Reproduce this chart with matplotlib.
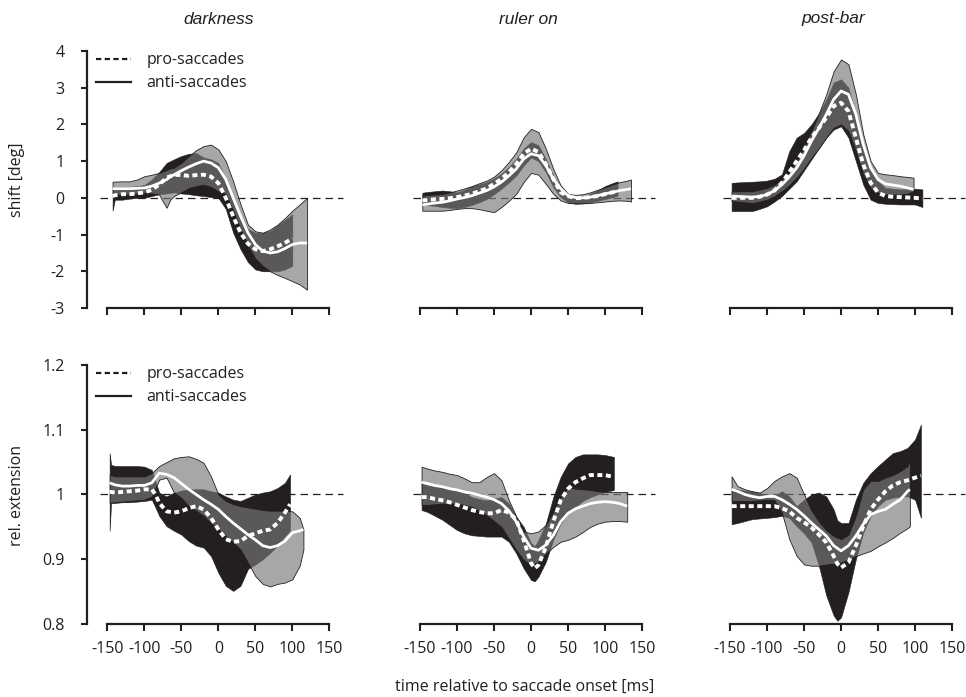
import numpy as np
import matplotlib
matplotlib.use('Agg')
import matplotlib.pyplot as plt
from matplotlib.lines import Line2D

# ---- data: time [ms], mean and confidence band for pro / anti saccades ----
# darkness, shift [deg]
dark_shift_pro_t = [-143, -140, -130, -120, -110, -100, -90, -80, -70, -60, -50, -40, -30, -20, -10, 0,
                    10, 20, 30, 40, 50, 60, 70, 80, 90, 100]
dark_shift_pro_mean = [0.05, 0.07, 0.1, 0.1, 0.12, 0.15, 0.22, 0.36, 0.55, 0.63, 0.62, 0.6, 0.62, 0.63, 0.58, 0.4,
                       0.0, -0.5, -0.95, -1.25, -1.4, -1.45, -1.4, -1.32, -1.23, -1.1]
dark_shift_pro_hi = [0.3, 0.3, 0.3, 0.3, 0.32, 0.35, 0.5, 0.7, 0.95, 1.05, 1.14, 1.2, 1.22, 1.1, 1.05, 0.95,
                     0.5, -0.1, -0.5, -0.85, -0.95, -0.95, -0.9, -0.75, -0.6, -0.45]
dark_shift_pro_lo = [-0.35, -0.05, -0.05, -0.02, 0.0, 0.0, 0.05, 0.1, 0.12, 0.15, 0.12, 0.1, 0.07, 0.05, 0.02, 0.0,
                     -0.3, -0.95, -1.4, -1.75, -1.95, -2.0, -2.0, -2.0, -1.95, -1.85]
dark_shift_anti_t = [-143, -130, -120, -110, -100, -90, -80, -75, -70, -65, -60, -50, -40, -30, -20, -10, 0,
                     10, 20, 30, 40, 50, 60, 70, 80, 90, 100, 110, 120]
dark_shift_anti_mean = [0.25, 0.25, 0.25, 0.26, 0.27, 0.32, 0.4, 0.45, 0.5, 0.57, 0.63, 0.74, 0.84, 0.93, 1.0, 0.95, 0.82,
                        0.5, 0.0, -0.5, -0.95, -1.27, -1.45, -1.5, -1.47, -1.38, -1.27, -1.23, -1.23]
dark_shift_anti_hi = [0.44, 0.45, 0.45, 0.5, 0.59, 0.63, 0.68, 0.72, 0.76, 0.8, 0.82, 0.95, 1.14, 1.3, 1.41, 1.45, 1.32,
                      1.0, 0.45, -0.18, -0.73, -0.91, -0.95, -0.86, -0.73, -0.55, -0.35, -0.18, 0.0]
dark_shift_anti_lo = [0.09, 0.09, 0.09, 0.11, 0.14, 0.12, 0.09, -0.1, -0.27, -0.05, 0.05, 0.15, 0.27, 0.32, 0.36, 0.3, 0.18,
                      0.1, -0.35, -0.85, -1.3, -1.65, -1.85, -2.0, -2.1, -2.18, -2.27, -2.36, -2.5]

# ruler on, shift [deg]
ruler_shift_pro_t = [-147, -140, -130, -120, -110, -100, -90, -80, -70, -60, -50, -40, -30, -20, -10, 0,
                     10, 20, 30, 40, 50, 60, 70, 80, 90, 100, 110, 117]
ruler_shift_pro_mean = [-0.07, -0.06, -0.04, -0.03, -0.01, 0.02, 0.06, 0.11, 0.18, 0.26, 0.38, 0.52, 0.7, 0.92, 1.2, 1.34,
                        1.25, 0.92, 0.52, 0.15, 0.05, -0.01, 0.0, 0.02, 0.05, 0.1, 0.15, 0.2]
ruler_shift_pro_hi = [0.14, 0.16, 0.18, 0.2, 0.18, 0.15, 0.22, 0.32, 0.37, 0.43, 0.53, 0.66, 0.84, 1.06, 1.34, 1.52,
                      1.43, 1.06, 0.61, 0.25, 0.06, 0.02, 0.05, 0.11, 0.2, 0.32, 0.4, 0.45]
ruler_shift_pro_lo = [-0.19, -0.2, -0.22, -0.25, -0.27, -0.28, -0.25, -0.19, -0.12, -0.03, 0.1, 0.25, 0.42, 0.61, 0.88, 1.1,
                      1.0, 0.7, 0.29, 0.02, -0.12, -0.16, -0.15, -0.12, -0.08, -0.03, 0.02, 0.06]
ruler_shift_anti_t = [-147, -140, -130, -120, -110, -100, -90, -80, -70, -60, -50, -40, -30, -20, -10, 0,
                      10, 20, 30, 40, 50, 60, 70, 80, 90, 100, 110, 120, 130, 135]
ruler_shift_anti_mean = [-0.19, -0.17, -0.14, -0.12, -0.08, -0.03, 0.01, 0.06, 0.13, 0.2, 0.3, 0.43, 0.6, 0.79, 1.06, 1.2,
                         1.15, 0.88, 0.52, 0.25, 0.06, 0.01, 0.0, 0.02, 0.06, 0.11, 0.15, 0.2, 0.23, 0.25]
ruler_shift_anti_hi = [0.06, 0.08, 0.09, 0.1, 0.15, 0.2, 0.26, 0.32, 0.4, 0.47, 0.58, 0.75, 0.98, 1.24, 1.65, 1.88,
                       1.79, 1.34, 0.79, 0.34, 0.11, 0.08, 0.1, 0.15, 0.22, 0.29, 0.36, 0.43, 0.47, 0.5]
ruler_shift_anti_lo = [-0.35, -0.35, -0.35, -0.35, -0.33, -0.3, -0.28, -0.28, -0.31, -0.35, -0.39, -0.25, -0.08, 0.11, 0.43, 0.68,
                       0.63, 0.38, 0.11, -0.07, -0.14, -0.15, -0.15, -0.14, -0.12, -0.1, -0.08, -0.07, -0.08, -0.1]

# post-bar, shift [deg]
post_shift_pro_t = [-148, -140, -130, -120, -110, -100, -90, -80, -70, -60, -50, -40, -30, -20, -10, 0,
                    10, 20, 30, 40, 50, 60, 70, 80, 90, 100, 110]
post_shift_pro_mean = [0.0, 0.0, 0.0, 0.0, 0.03, 0.09, 0.2, 0.41, 0.7, 1.0, 1.3, 1.64, 1.9, 2.18, 2.5, 2.59,
                       2.36, 1.64, 0.91, 0.41, 0.14, 0.05, 0.03, 0.02, 0.01, 0.0, -0.02]
post_shift_pro_hi = [0.41, 0.42, 0.43, 0.44, 0.45, 0.47, 0.52, 0.64, 1.27, 1.64, 1.77, 2.0, 2.3, 2.68, 3.14, 3.23,
                     3.0, 2.27, 1.36, 0.82, 0.45, 0.27, 0.25, 0.23, 0.24, 0.25, 0.23]
post_shift_pro_lo = [-0.36, -0.36, -0.36, -0.36, -0.3, -0.23, -0.1, 0.05, 0.25, 0.45, 0.75, 1.05, 1.35, 1.64, 1.86, 1.95,
                     1.64, 1.0, 0.36, -0.05, -0.14, -0.16, -0.17, -0.18, -0.18, -0.18, -0.25]
post_shift_anti_t = [-148, -140, -130, -120, -110, -100, -90, -80, -70, -60, -50, -40, -30, -20, -10, 0,
                     10, 20, 30, 40, 50, 60, 70, 80, 90, 98]
post_shift_anti_mean = [0.05, 0.04, 0.03, 0.02, 0.04, 0.09, 0.2, 0.36, 0.57, 0.82, 1.15, 1.55, 1.9, 2.27, 2.68, 2.91,
                        2.82, 2.27, 1.45, 0.82, 0.5, 0.38, 0.35, 0.32, 0.27, 0.23]
post_shift_anti_hi = [0.18, 0.18, 0.18, 0.18, 0.22, 0.27, 0.36, 0.5, 0.72, 1.0, 1.38, 1.82, 2.3, 2.82, 3.45, 3.77,
                      3.64, 2.82, 1.73, 1.0, 0.68, 0.64, 0.62, 0.59, 0.57, 0.55]
post_shift_anti_lo = [-0.09, -0.1, -0.12, -0.14, -0.1, -0.05, 0.05, 0.18, 0.35, 0.55, 0.8, 1.09, 1.35, 1.64, 1.91, 2.0,
                      1.82, 1.27, 0.64, 0.27, 0.14, 0.09, 0.09, 0.09, 0.12, 0.18]

# darkness, rel. extension
dark_ext_pro_t = [-147, -145, -140, -130, -120, -110, -100, -90, -85, -80, -70, -60, -50, -40, -30, -20, -10, 0,
                  10, 20, 30, 40, 50, 60, 70, 80, 90, 97]
dark_ext_pro_mean = [1.004, 1.004, 1.003, 1.004, 1.005, 1.006, 1.008, 1.008, 1.0, 0.987, 0.974, 0.972, 0.974, 0.979,
                     0.982, 0.977, 0.964, 0.946, 0.931, 0.927, 0.928, 0.936, 0.94, 0.944, 0.946, 0.956, 0.972, 0.985]
dark_ext_pro_hi = [1.064, 1.046, 1.044, 1.044, 1.044, 1.044, 1.043, 1.038, 1.02, 1.003, 0.997, 1.003, 1.006, 1.008,
                   1.008, 1.008, 1.005, 1.003, 0.997, 0.992, 0.99, 0.995, 1.0, 1.003, 1.005, 1.01, 1.018, 1.031]
dark_ext_pro_lo = [0.944, 0.987, 0.987, 0.988, 0.988, 0.989, 0.99, 0.992, 0.98, 0.967, 0.951, 0.944, 0.938, 0.928,
                   0.921, 0.918, 0.905, 0.879, 0.859, 0.851, 0.859, 0.885, 0.892, 0.9, 0.91, 0.921, 0.936, 0.944]
dark_ext_anti_t = [-147, -140, -130, -120, -110, -100, -90, -80, -70, -60, -50, -40, -30, -20, -10, 0,
                   10, 20, 30, 40, 50, 60, 70, 80, 90, 100, 110, 115]
dark_ext_anti_mean = [1.018, 1.015, 1.013, 1.013, 1.014, 1.014, 1.018, 1.033, 1.031, 1.026, 1.017, 1.008, 1.0, 0.992,
                      0.985, 0.977, 0.966, 0.956, 0.947, 0.938, 0.93, 0.921, 0.918, 0.921, 0.928, 0.941, 0.944, 0.946]
dark_ext_anti_hi = [1.031, 1.028, 1.028, 1.028, 1.028, 1.028, 1.033, 1.044, 1.05, 1.056, 1.058, 1.059, 1.055, 1.049,
                    1.028, 1.0, 0.99, 0.985, 0.982, 0.98, 0.978, 0.976, 0.975, 0.975, 0.975, 0.974, 0.964, 0.946]
dark_ext_anti_lo = [0.987, 0.988, 0.989, 0.99, 0.991, 0.992, 0.997, 1.023, 1.026, 1.003, 0.995, 0.982, 0.975, 0.967,
                    0.956, 0.946, 0.936, 0.926, 0.915, 0.895, 0.874, 0.862, 0.858, 0.862, 0.864, 0.869, 0.89, 0.915]

# ruler on, rel. extension
ruler_ext_pro_t = [-148, -140, -130, -120, -110, -100, -90, -80, -70, -60, -50, -40, -30, -20, -10, 0, 5,
                   10, 20, 30, 40, 50, 60, 70, 80, 90, 100, 112]
ruler_ext_pro_mean = [0.996, 0.996, 0.993, 0.991, 0.988, 0.984, 0.98, 0.976, 0.973, 0.971, 0.971, 0.976, 0.972, 0.961,
                      0.93, 0.894, 0.886, 0.891, 0.919, 0.958, 0.991, 1.009, 1.019, 1.025, 1.03, 1.03, 1.03, 1.027]
ruler_ext_pro_hi = [1.017, 1.014, 1.012, 1.011, 1.009, 1.007, 1.002, 0.996, 0.993, 0.991, 0.994, 0.996, 0.986, 0.966,
                    0.95, 0.925, 0.92, 0.93, 0.955, 0.996, 1.027, 1.048, 1.058, 1.062, 1.062, 1.062, 1.061, 1.058]
ruler_ext_pro_lo = [0.976, 0.973, 0.967, 0.961, 0.953, 0.945, 0.94, 0.937, 0.936, 0.935, 0.935, 0.935, 0.927, 0.909,
                    0.886, 0.868, 0.866, 0.873, 0.896, 0.93, 0.955, 0.971, 0.981, 0.99, 0.996, 1.0, 1.004, 1.007]
ruler_ext_anti_t = [-148, -140, -130, -120, -110, -100, -90, -80, -70, -60, -50, -40, -30, -20, -10, 0,
                    10, 20, 30, 40, 50, 60, 70, 80, 90, 100, 110, 120, 130]
ruler_ext_anti_mean = [1.019, 1.017, 1.014, 1.012, 1.009, 1.007, 1.004, 1.002, 0.999, 0.996, 0.992, 0.986, 0.975, 0.958,
                       0.935, 0.917, 0.914, 0.922, 0.937, 0.958, 0.971, 0.978, 0.982, 0.986, 0.988, 0.989, 0.988, 0.986, 0.982]
ruler_ext_anti_hi = [1.043, 1.04, 1.037, 1.035, 1.032, 1.03, 1.025, 1.019, 1.019, 1.027, 1.033, 1.022, 0.991, 0.966,
                     0.943, 0.94, 0.943, 0.953, 0.973, 0.996, 1.012, 1.009, 1.008, 1.007, 1.005, 1.004, 1.004, 1.004, 1.004]
ruler_ext_anti_lo = [0.984, 0.984, 0.985, 0.986, 0.986, 0.986, 0.984, 0.981, 0.975, 0.968, 0.959, 0.95, 0.932, 0.914,
                     0.899, 0.891, 0.896, 0.909, 0.919, 0.927, 0.93, 0.935, 0.942, 0.95, 0.955, 0.958, 0.959, 0.959, 0.958]

# post-bar, rel. extension
post_ext_pro_t = [-148, -140, -130, -120, -110, -100, -90, -80, -70, -60, -50, -40, -30, -20, -10, -5, 0,
                  10, 20, 30, 40, 50, 60, 70, 80, 90, 100, 108]
post_ext_pro_mean = [0.982, 0.982, 0.982, 0.982, 0.982, 0.982, 0.982, 0.979, 0.974, 0.964, 0.957, 0.949, 0.938, 0.926,
                     0.905, 0.893, 0.887, 0.895, 0.921, 0.951, 0.977, 0.992, 1.005, 1.014, 1.019, 1.022, 1.026, 1.029]
post_ext_pro_hi = [1.01, 1.008, 1.006, 1.005, 1.002, 1.0, 0.997, 1.005, 0.997, 0.982, 0.992, 1.0, 1.003, 0.997,
                   0.977, 0.96, 0.956, 0.956, 0.992, 1.018, 1.033, 1.044, 1.054, 1.064, 1.067, 1.072, 1.085, 1.108]
post_ext_pro_lo = [0.954, 0.956, 0.959, 0.962, 0.963, 0.964, 0.965, 0.967, 0.964, 0.951, 0.94, 0.926, 0.89, 0.844,
                   0.813, 0.805, 0.81, 0.849, 0.9, 0.941, 0.967, 0.982, 0.992, 0.995, 0.997, 0.997, 0.992, 0.964]
post_ext_anti_t = [-148, -140, -130, -120, -110, -100, -90, -80, -70, -60, -50, -40, -30, -20, -10, 0,
                   10, 20, 30, 40, 50, 60, 70, 80, 90, 93]
post_ext_anti_mean = [1.008, 1.005, 1.0, 0.997, 0.995, 0.997, 0.997, 0.992, 0.985, 0.977, 0.967, 0.956, 0.946, 0.936,
                      0.921, 0.913, 0.921, 0.936, 0.954, 0.969, 0.974, 0.977, 0.985, 0.992, 1.005, 1.008]
post_ext_anti_hi = [1.028, 1.013, 1.008, 1.005, 1.003, 1.01, 1.021, 1.028, 1.033, 1.026, 1.0, 0.975, 0.958, 0.945,
                    0.936, 0.931, 0.938, 0.967, 1.008, 1.021, 1.021, 1.026, 1.03, 1.036, 1.044, 1.054]
post_ext_anti_lo = [0.99, 0.99, 0.99, 0.99, 0.991, 0.992, 0.991, 0.972, 0.931, 0.905, 0.892, 0.89, 0.89, 0.892,
                    0.893, 0.895, 0.9, 0.905, 0.909, 0.913, 0.92, 0.926, 0.933, 0.941, 0.948, 0.951]

conditions = ["darkness", "ruler on", "post-bar"]
time_ticks = [-150, -100, -50, 0, 50, 100, 150]
shift_ticks = [-3, -2, -1, 0, 1, 2, 3, 4]
ext_ticks = [0.8, 0.9, 1.0, 1.1, 1.2]
ext_ticklabels = ["0.8", "0.9", "1", "1.1", "1.2"]

INK = '#231f20'
plt.rcParams['font.family'] = ['Open Sans', 'DejaVu Sans']
plt.rcParams['axes.unicode_minus'] = False
plt.rcParams['text.color'] = INK


def draw_panel(ax, pro, anti, ref):
    pt, pm, phi, plo = [np.asarray(a) for a in pro]
    at, am, ahi, alo = [np.asarray(a) for a in anti]
    ax.plot([-160, 168], [ref, ref], color=INK, lw=0.9, dashes=(6, 4), zorder=1, clip_on=False)
    ax.fill_between(pt, plo, phi, facecolor=INK, edgecolor=INK, lw=0.4, zorder=2)
    # semi-transparent grey: light grey on white, dark grey where it overlaps the black band
    ax.fill_between(at, alo, ahi, facecolor=(0.47, 0.47, 0.47, 0.65), edgecolor=INK, lw=0.6, zorder=3)
    ax.plot(at, am, color='white', lw=2.0, solid_capstyle='butt', zorder=4)
    ax.plot(pt, pm, color='white', lw=2.8, dashes=(1.3, 0.9), zorder=5)


fig = plt.figure(figsize=(9.66, 6.97), dpi=100)
W, H = 966.0, 697.0
lefts = [86.7, 399.4, 709.4]
ax_w = 242.6
rows = [(51.0, 308.0), (365.0, 624.0)]

panels_top = [
    ((dark_shift_pro_t, dark_shift_pro_mean, dark_shift_pro_hi, dark_shift_pro_lo),
     (dark_shift_anti_t, dark_shift_anti_mean, dark_shift_anti_hi, dark_shift_anti_lo)),
    ((ruler_shift_pro_t, ruler_shift_pro_mean, ruler_shift_pro_hi, ruler_shift_pro_lo),
     (ruler_shift_anti_t, ruler_shift_anti_mean, ruler_shift_anti_hi, ruler_shift_anti_lo)),
    ((post_shift_pro_t, post_shift_pro_mean, post_shift_pro_hi, post_shift_pro_lo),
     (post_shift_anti_t, post_shift_anti_mean, post_shift_anti_hi, post_shift_anti_lo)),
]
panels_bot = [
    ((dark_ext_pro_t, dark_ext_pro_mean, dark_ext_pro_hi, dark_ext_pro_lo),
     (dark_ext_anti_t, dark_ext_anti_mean, dark_ext_anti_hi, dark_ext_anti_lo)),
    ((ruler_ext_pro_t, ruler_ext_pro_mean, ruler_ext_pro_hi, ruler_ext_pro_lo),
     (ruler_ext_anti_t, ruler_ext_anti_mean, ruler_ext_anti_hi, ruler_ext_anti_lo)),
    ((post_ext_pro_t, post_ext_pro_mean, post_ext_pro_hi, post_ext_pro_lo),
     (post_ext_anti_t, post_ext_anti_mean, post_ext_anti_hi, post_ext_anti_lo)),
]

for r, (panels, ylim, ref) in enumerate([(panels_top, (-3, 4), 0.0), (panels_bot, (0.8, 1.2), 1.0)]):
    top, bot = rows[r]
    for c in range(3):
        ax = fig.add_axes([lefts[c] / W, 1 - bot / H, ax_w / W, (bot - top) / H])
        pro, anti = panels[c]
        draw_panel(ax, pro, anti, ref)
        ax.set_xlim(-178, 150)
        ax.set_ylim(*ylim)
        for s in ['top', 'right']:
            ax.spines[s].set_visible(False)
        ax.spines['bottom'].set_bounds(-150, 150)
        ax.spines['bottom'].set_linewidth(1.6)
        ax.spines['bottom'].set_color(INK)
        ax.set_xticks(time_ticks)
        ax.tick_params(axis='x', direction='out', length=5, width=1.5, color=INK,
                       labelsize=11.5, labelcolor=INK, pad=7, labelbottom=(r == 1))
        if c == 0:
            ax.spines['left'].set_linewidth(1.6)
            ax.spines['left'].set_color(INK)
            if r == 0:
                ax.set_yticks(shift_ticks)
            else:
                ax.set_yticks(ext_ticks)
                ax.set_yticklabels(ext_ticklabels)
            ax.tick_params(axis='y', direction='out', length=4, width=1.5, color=INK,
                           labelsize=11.5, labelcolor=INK, pad=12)
            leg_handles = [Line2D([], [], color=INK, lw=1.6, dashes=(2.4, 1.5)),
                           Line2D([], [], color=INK, lw=1.6)]
            ax.legend(leg_handles, ['pro-saccades', 'anti-saccades'], loc='upper left',
                      bbox_to_anchor=(0.038, 0.995), frameon=False, fontsize=11.5, borderpad=0,
                      borderaxespad=0, handlelength=2.2, handletextpad=0.95, labelspacing=0.45)
        else:
            ax.spines['left'].set_visible(False)
            ax.set_yticks([])
        ax.patch.set_visible(False)

# column titles
for name, xc in zip(conditions, [219, 528, 833]):
    fig.text(xc / W, 1 - 19 / H, name, ha='center', va='center', fontsize=12.5,
             style='italic', family='Liberation Sans')

fig.text(17 / W, 1 - 180 / H, 'shift [deg]', rotation=90, ha='center', va='center', fontsize=11.5)
fig.text(17 / W, 1 - 495 / H, 'rel. extension', rotation=90, ha='center', va='center', fontsize=11.5)
fig.text(525 / W, 1 - 687 / H, 'time relative to saccade onset [ms]', ha='center', va='center', fontsize=11.5)

fig.savefig('out.png', dpi=100)
